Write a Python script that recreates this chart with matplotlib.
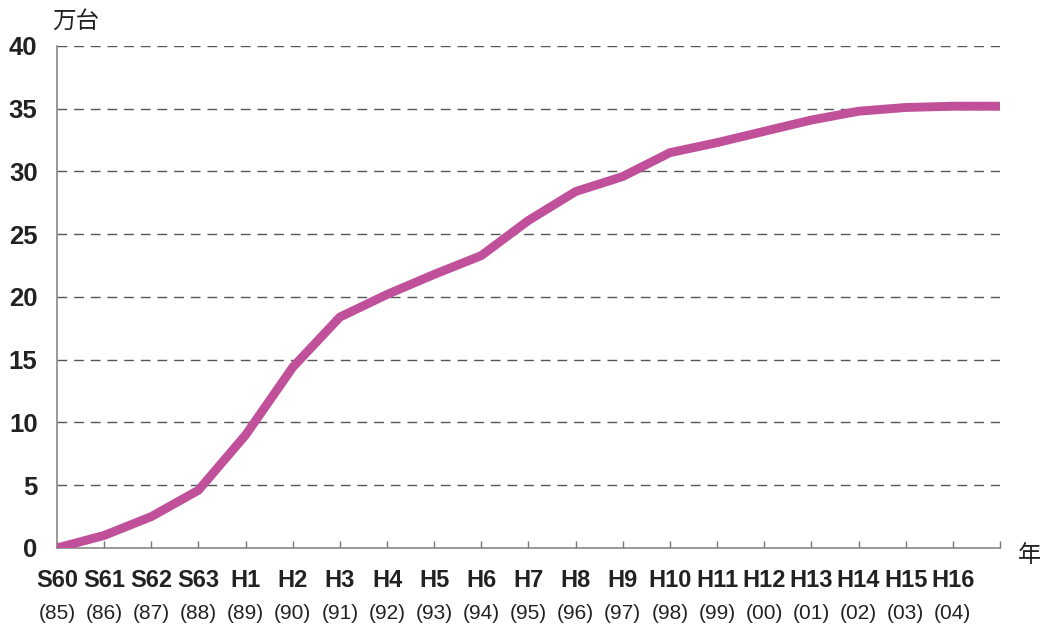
import numpy as np
import matplotlib.pyplot as plt
from matplotlib.transforms import blended_transform_factory

plt.rcParams['font.family'] = ['Liberation Sans', 'Noto Sans CJK JP', 'DejaVu Sans']

# era labels, western year labels and cumulative units (10k)
eras = ['S60', 'S61', 'S62', 'S63', 'H1', 'H2', 'H3', 'H4', 'H5', 'H6',
        'H7', 'H8', 'H9', 'H10', 'H11', 'H12', 'H13', 'H14', 'H15', 'H16']
years = ['(85)', '(86)', '(87)', '(88)', '(89)', '(90)', '(91)', '(92)', '(93)', '(94)',
         '(95)', '(96)', '(97)', '(98)', '(99)', '(00)', '(01)', '(02)', '(03)', '(04)']
units = [0.0, 1.0, 2.5, 4.6, 9.0, 14.4, 18.4, 20.2, 21.8, 23.3, 26.1,
         28.4, 29.6, 31.5, 32.3, 33.2, 34.1, 34.8, 35.1, 35.2, 35.2]

fig = plt.figure(figsize=(10.4, 6.3), dpi=100)
ax = fig.add_axes([0.0548, 0.1302, 0.9067, 0.7968])

x = np.arange(len(units))
ax.set_xlim(0, len(eras))
ax.set_ylim(0, 40)

# dashed horizontal grid
for v in range(5, 45, 5):
    ax.axhline(v, color='#555555', lw=1.0, dashes=(7, 5), zorder=1)

ax.plot(x, units, color='#C0509A', lw=6.4, solid_capstyle='butt',
        solid_joinstyle='round', zorder=3)

for s in ['top', 'right']:
    ax.spines[s].set_visible(False)
for s in ['left', 'bottom']:
    ax.spines[s].set_color('#888888')
    ax.spines[s].set_linewidth(1.2)

ax.set_yticks(range(0, 45, 5))
ax.tick_params(axis='y', length=0, pad=14, labelsize=18.5)
for t in ax.get_yticklabels():
    t.set_fontweight('bold')
    t.set_color('#222222')

ax.set_xticks(np.arange(len(eras) + 1))
ax.set_xticklabels(eras + [''], fontsize=17, fontweight='bold', color='#222222')
ax.tick_params(axis='x', direction='in', length=5, width=1, color='#777777', pad=15)

trans = blended_transform_factory(ax.transData, ax.transAxes)
for i, yl in enumerate(years):
    ax.text(i, -0.13, yl, transform=trans, ha='center', va='center',
            fontsize=15, color='#222222')

fig.text(0.050, 0.965, '万台', fontsize=17, ha='left', va='center', color='#222222')
fig.text(0.990, 0.118, '年', fontsize=17, ha='center', va='center', color='#222222')

fig.savefig('out.png', dpi=100)
